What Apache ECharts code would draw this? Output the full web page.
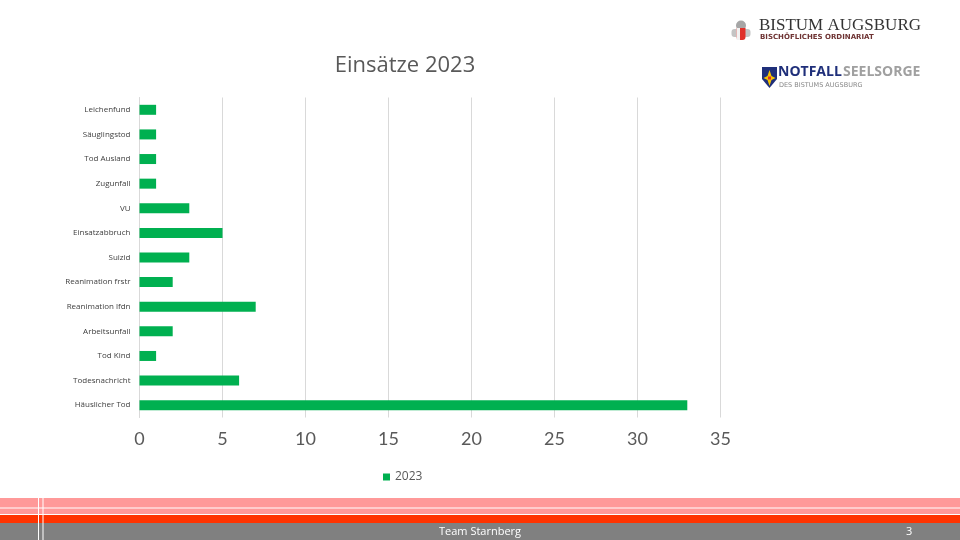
<!DOCTYPE html>
<html>
<head>
<meta charset="utf-8">
<title>Einsätze 2023</title>
<script src="https://cdn.jsdelivr.net/npm/echarts@6/dist/echarts.min.js"></script>
<style>
  html, body { margin: 0; padding: 0; background: #fff; }
  #main { width: 960px; height: 540px; }
</style>
</head>
<body>
<div id="main"></div>
<script>
// categories listed bottom to top (category axis starts at the bottom)
var categories = ['Häuslicher Tod', 'Todesnachricht', 'Tod Kind', 'Arbeitsunfall',
  'Reanimation lfdn', 'Reanimation frstr', 'Suizid', 'Einsatzabbruch', 'VU',
  'Zugunfall', 'Tod Ausland', 'Säuglingstod', 'Leichenfund'];
var values2023 = [33, 6, 1, 2, 7, 2, 3, 5, 3, 1, 1, 1, 1];
var seriesName = '2023';

var myChart = echarts.init(document.getElementById('main'));

var textGray = '#595959';

var option = {
  backgroundColor: '#fff',
  animation: false,
  title: {
    text: 'Einsätze 2023',
    left: 400,
    top: 50,
    textAlign: 'center',
    textStyle: { fontFamily: 'Open Sans', fontSize: 22, fontWeight: 'normal', color: textGray }
  },
  legend: {
    data: [seriesName],
    left: 378,
    top: 466,
    icon: 'rect',
    itemWidth: 7,
    itemHeight: 7,
    itemGap: 5,
    textStyle: { fontFamily: 'Open Sans', fontSize: 12, color: textGray }
  },
  grid: { left: 139.5, right: 239.5, top: 97.5, bottom: 122.5, containLabel: false },
  xAxis: {
    type: 'value',
    min: 0,
    max: 35,
    interval: 5,
    axisLine: { show: false },
    axisTick: { show: false },
    splitLine: { lineStyle: { color: '#D9D9D9', width: 1 } },
    axisLabel: { margin: 13, fontFamily: 'Lato', fontSize: 18, color: textGray }
  },
  yAxis: {
    type: 'category',
    data: categories,
    axisLine: { show: true, lineStyle: { color: '#D9D9D9' } },
    axisTick: { show: false },
    axisLabel: { margin: 9, fontFamily: 'Open Sans', fontSize: 8, color: '#404040' }
  },
  series: [{
    name: seriesName,
    type: 'bar',
    data: values2023,
    barWidth: 10,
    itemStyle: { color: '#00B050' }
  }],
  graphic: [
    // footer bands
    { type: 'rect', shape: { x: 0, y: 498, width: 960, height: 17 }, style: { fill: '#FF9999' } },
    { type: 'rect', shape: { x: 0, y: 507.5, width: 960, height: 1 }, style: { fill: '#fff' } },
    { type: 'rect', shape: { x: 0, y: 514, width: 960, height: 1 }, style: { fill: '#fff' } },
    { type: 'rect', shape: { x: 0, y: 515, width: 960, height: 8 }, style: { fill: '#FF3300' } },
    { type: 'rect', shape: { x: 0, y: 523, width: 960, height: 17 }, style: { fill: '#808080' } },
    { type: 'rect', shape: { x: 38, y: 498, width: 1, height: 42 }, style: { fill: '#fff' } },
    { type: 'rect', shape: { x: 42.5, y: 498, width: 1, height: 42 }, style: { fill: '#fff' } },
    { type: 'text', left: 439, top: 526, style: { text: 'Team Starnberg', fill: '#fff', font: '11px "Open Sans"' } },
    { type: 'text', left: 906, top: 526, style: { text: '3', fill: '#fff', font: '11px "Open Sans"' } },

    // Bistum Augsburg logo
    { type: 'circle', shape: { cx: 741, cy: 25.5, r: 5 }, style: { fill: '#a6a6a6' } },
    { type: 'rect', shape: { x: 731.5, y: 29, width: 19, height: 8, r: 3 }, style: { fill: '#c4c4c4' } },
    { type: 'rect', shape: { x: 736.5, y: 28, width: 9, height: 12, r: [0, 0, 3, 3] }, style: { fill: '#e0302a' } },
    { type: 'rect', shape: { x: 736.5, y: 28, width: 3.5, height: 12 }, style: { fill: '#f2f2f2' } },
    { type: 'text', left: 759, top: 17, style: { text: 'BISTUM AUGSBURG', fill: '#333', font: '17px "Liberation Serif"' } },
    { type: 'text', left: 760, top: 34, style: { text: 'BISCHÖFLICHES ORDINARIAT', fill: '#6e3333', font: 'bold 7px "DejaVu Sans"' } },

    // Notfallseelsorge logo
    { type: 'polygon', shape: { points: [[762, 67], [777, 67], [777, 79], [769.5, 88], [762, 79]] }, style: { fill: '#1f2f7a' } },
    { type: 'polygon', shape: { points: [[769.5, 70], [771.5, 76], [775.5, 78], [771.5, 80], [769.5, 86], [767.5, 80], [763.5, 78], [767.5, 76]] }, style: { fill: '#f5c400' } },
    { type: 'rect', shape: { x: 768, y: 76.5, width: 3, height: 3 }, style: { fill: '#e0302a' } },
    { type: 'text', left: 778, top: 65, style: { text: 'NOTFALL', fill: '#1f2f7a', font: 'bold 14px "Open Sans"' } },
    { type: 'text', left: 843, top: 65, style: { text: 'SEELSORGE', fill: '#a0a0a0', font: 'bold 14px "Open Sans"' } },
    { type: 'text', left: 779, top: 82, style: { text: 'DES BISTUMS AUGSBURG', fill: '#888', font: '6.5px "DejaVu Sans"' } }
  ]
};

myChart.setOption(option);
</script>
</body>
</html>
